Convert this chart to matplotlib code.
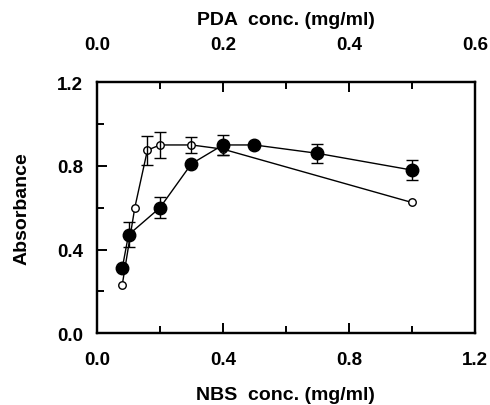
import matplotlib
matplotlib.use("Agg")
import matplotlib.pyplot as plt
from matplotlib.ticker import MultipleLocator

plt.rcParams['font.family'] = ['Liberation Sans', 'DejaVu Sans']
plt.rcParams['font.weight'] = 'bold'

# NBS series (filled circles, bottom axis)
nbs_x = [0.08, 0.10, 0.20, 0.30, 0.40, 0.50, 0.70, 1.00]
nbs_y = [0.31, 0.47, 0.60, 0.81, 0.90, 0.90, 0.86, 0.78]
nbs_err = [0.0, 0.06, 0.05, 0.0, 0.05, 0.0, 0.045, 0.048]

# PDA series (open circles, top axis)
pda_x = [0.04, 0.06, 0.08, 0.10, 0.15, 0.20, 0.50]
pda_y = [0.23, 0.60, 0.875, 0.90, 0.90, 0.88, 0.625]
pda_err = [0.0, 0.0, 0.07, 0.06, 0.037, 0.03, 0.0]

fig = plt.figure(figsize=(4.9, 4.06), dpi=100)
ax = fig.add_axes([0.198, 0.177, 0.771, 0.618])
ax2 = ax.twiny()
ax.set_zorder(ax2.get_zorder() + 1)
ax.patch.set_visible(False)

# open circles on the top (PDA) axis
ax2.plot(pda_x, pda_y, color='black', lw=1.0, marker='o', ms=5.4,
         mfc='white', mec='black', mew=1.0)
ex = [x for x, e in zip(pda_x, pda_err) if e > 0]
ey = [y for y, e in zip(pda_y, pda_err) if e > 0]
ee = [e for e in pda_err if e > 0]
ax2.errorbar(ex, ey, yerr=ee, fmt='none', ecolor='black', elinewidth=1.0,
             capsize=4, capthick=1.0)

# filled circles on the bottom (NBS) axis
ax.plot(nbs_x, nbs_y, color='black', lw=1.0, marker='o', ms=9,
        mfc='black', mec='black')
ex = [x for x, e in zip(nbs_x, nbs_err) if e > 0]
ey = [y for y, e in zip(nbs_y, nbs_err) if e > 0]
ee = [e for e in nbs_err if e > 0]
ax.errorbar(ex, ey, yerr=ee, fmt='none', ecolor='black', elinewidth=1.0,
            capsize=4, capthick=1.0)

ax.set_xlim(0, 1.2)
ax.set_ylim(0, 1.2)
ax2.set_xlim(0, 0.6)

ax.xaxis.set_major_locator(MultipleLocator(0.4))
ax.xaxis.set_minor_locator(MultipleLocator(0.2))
ax.yaxis.set_major_locator(MultipleLocator(0.4))
ax.yaxis.set_minor_locator(MultipleLocator(0.2))
ax2.xaxis.set_major_locator(MultipleLocator(0.2))
ax2.xaxis.set_minor_locator(MultipleLocator(0.1))
ax.xaxis.set_major_formatter(plt.FormatStrFormatter('%.1f'))
ax.yaxis.set_major_formatter(plt.FormatStrFormatter('%.1f'))
ax2.xaxis.set_major_formatter(plt.FormatStrFormatter('%.1f'))

for a in (ax, ax2):
    for s in a.spines.values():
        s.set_linewidth(1.6)
    a.tick_params(which='major', direction='in', length=7, width=1.4,
                  labelsize=13.5)
    a.tick_params(which='minor', direction='in', length=5, width=1.4)

ax.tick_params(axis='x', which='both', top=False, pad=13)
ax.tick_params(axis='y', which='both', right=False, pad=10)
ax2.tick_params(axis='x', which='both', pad=21)

ax.set_xlabel('NBS  conc. (mg/ml)', fontsize=14, fontweight='bold', labelpad=13)
ax2.set_xlabel('PDA  conc. (mg/ml)', fontsize=14, fontweight='bold', labelpad=9)
ax.set_ylabel('Absorbance', fontsize=14, fontweight='bold', labelpad=19)

fig.savefig('out.png', dpi=100)
